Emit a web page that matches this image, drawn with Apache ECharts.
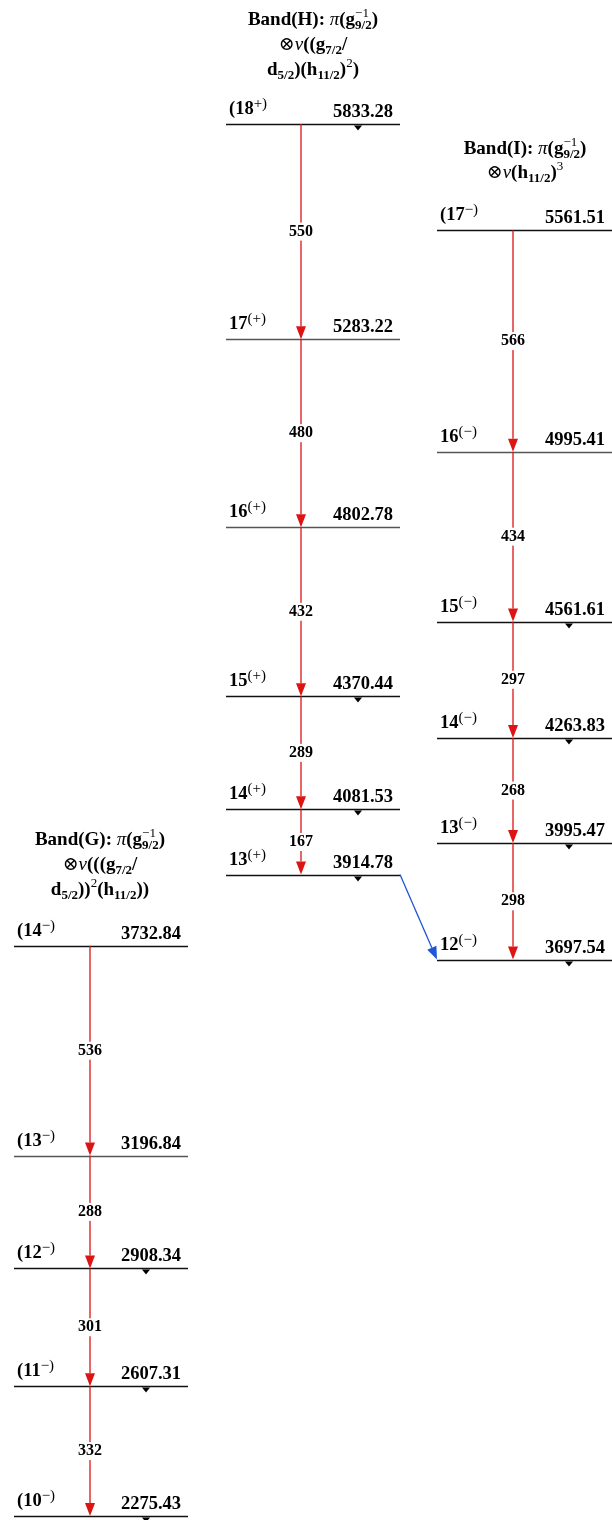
<!DOCTYPE html>
<html>
<head>
<meta charset="utf-8">
<script src="https://cdn.jsdelivr.net/npm/echarts@6/dist/echarts.min.js"></script>
<style>
  html, body { margin: 0; padding: 0; background: #fff; }
  #chart { width: 612px; height: 1520px; }
</style>
</head>
<body>
<div id="chart"></div>
<script>
// level energies (keV) and spins, top to bottom, per band
const bandGLevels = [3732.84, 3196.84, 2908.34, 2607.31, 2275.43];
const bandGSpins = ['(14−)', '(13−)', '(12−)', '(11−)', '(10−)'];
const bandGGammas = [536, 288, 301, 332];

const bandHLevels = [5833.28, 5283.22, 4802.78, 4370.44, 4081.53, 3914.78];
const bandHSpins = ['(18+)', '17(+)', '16(+)', '15(+)', '14(+)', '13(+)'];
const bandHGammas = [550, 480, 432, 289, 167];

const bandILevels = [5561.51, 4995.41, 4561.61, 4263.83, 3995.47, 3697.54];
const bandISpins = ['(17−)', '16(−)', '15(−)', '14(−)', '13(−)', '12(−)'];
const bandIGammas = [566, 434, 297, 268, 298];

// inter-band link (H -> I)
const linkFrom = 3914.78;
const linkTo = 3697.54;

// levels with a feeding marker under the line
const fedLevels = [5833.28, 4370.44, 4081.53, 3914.78, 4561.61, 4263.83, 3995.47, 3697.54, 2908.34, 2607.31, 2275.43];
const grayLevels = [5283.22, 4802.78, 4995.41, 3196.84];

const SERIF = '"Liberation Serif", "DejaVu Serif", serif';
const RED = '#dc1414';
const BLUE = '#1f55d6';

// horizontal layout of the three bands (x axis runs 0..612)
const bands = [
  {levels: bandGLevels, spins: bandGSpins, gammas: bandGGammas, x0: 14, x1: 188, xg: 90, xf: 146},
  {levels: bandHLevels, spins: bandHSpins, gammas: bandHGammas, x0: 226, x1: 400, xg: 301, xf: 358},
  {levels: bandILevels, spins: bandISpins, gammas: bandIGammas, x0: 437, x1: 612, xg: 513, xf: 569},
];

const levelRows = [];
const transRows = [];
bands.forEach(b => {
  b.levels.forEach((e, i) => {
    levelRows.push({x0: b.x0, x1: b.x1, xf: b.xf, e, spin: b.spins[i]});
  });
  b.gammas.forEach((g, i) => {
    transRows.push({xa: b.xg, ea: b.levels[i], xb: b.xg, eb: b.levels[i + 1], label: String(g), color: RED});
  });
});
transRows.push({xa: bands[1].x1, ea: linkFrom, xb: bands[2].x0, eb: linkTo, label: '', color: BLUE});

const levelRich = {
  b: {fontFamily: SERIF, fontWeight: 'bold', fontSize: 18.5, color: '#000'},
  sp: {fontFamily: SERIF, fontSize: 15, color: '#000', padding: [0, 0, 12, 0]},
  sg: {fontFamily: SERIF, fontSize: 15, color: '#555', padding: [0, 0, 10, 0]},
};

// '(18+)' -> bold number with superscript parity; '17(+)' -> gray bracketed parity
function spinText(s) {
  const m = s.match(/^(\(?)(\d+)(\(?[+−]\)?)(\)?)$/);
  if (!m) return '{b|' + s + '}';
  const sup = m[3].length > 1 ? '{sg|' + m[3] + '}' : '{sp|' + m[3] + '}';
  return '{b|' + m[1] + m[2] + '}' + sup + (m[4] ? '{b|' + m[4] + '}' : '');
}

function renderLevel(params, api) {
  const row = levelRows[params.dataIndex];
  const p0 = api.coord([row.x0, row.e]);
  const p1 = api.coord([row.x1, row.e]);
  const pf = api.coord([row.xf, row.e]);
  const y = Math.round(p0[1]) + 0.5;
  const children = [
    {type: 'line', shape: {x1: p0[0], y1: y, x2: p1[0], y2: y},
      style: {stroke: grayLevels.includes(row.e) ? '#555' : '#111', lineWidth: 1.5}},
    {type: 'text', x: p0[0] + 3, y: y - 3,
      style: {text: spinText(row.spin), rich: levelRich, align: 'left', verticalAlign: 'bottom'}},
    {type: 'text', x: p1[0] - 7, y: y - 3,
      style: {text: row.e.toFixed(2), fontFamily: SERIF, fontWeight: 'bold', fontSize: 18.5,
        fill: '#000', align: 'right', verticalAlign: 'bottom'}},
  ];
  if (fedLevels.includes(row.e)) {
    children.push({type: 'polygon',
      shape: {points: [[pf[0] - 4, y + 1], [pf[0] + 4, y + 1], [pf[0], y + 6]]},
      style: {fill: '#000'}});
  }
  return {type: 'group', children};
}

function renderTrans(params, api) {
  const row = transRows[params.dataIndex];
  const a = api.coord([row.xa, row.ea]);
  const b = api.coord([row.xb, row.eb]);
  const dx = b[0] - a[0], dy = b[1] - a[1];
  const len = Math.sqrt(dx * dx + dy * dy);
  const ux = dx / len, uy = dy / len;
  const hl = 13, hw = 5;
  const bx = b[0] - ux * hl, by = b[1] - uy * hl;
  const children = [
    {type: 'line', shape: {x1: a[0], y1: a[1], x2: bx, y2: by},
      style: {stroke: row.color, lineWidth: 1.3}},
    {type: 'polygon',
      shape: {points: [[b[0], b[1]], [bx - uy * hw, by + ux * hw], [bx + uy * hw, by - ux * hw]]},
      style: {fill: row.color}},
  ];
  if (row.label) {
    children.push({type: 'text', x: (a[0] + b[0]) / 2, y: (a[1] + b[1]) / 2,
      style: {text: row.label, fontFamily: SERIF, fontWeight: 'bold', fontSize: 16, fill: '#000',
        align: 'center', verticalAlign: 'middle', backgroundColor: '#fff', padding: [1, 0]}});
  }
  return {type: 'group', children};
}

// every token left-placed so a zero-width superscript stacks over the next subscript
const titleRich = {
  b: {fontFamily: SERIF, fontWeight: 'bold', fontSize: 19, color: '#000', align: 'left'},
  i: {fontFamily: SERIF, fontStyle: 'italic', fontSize: 19, color: '#000', align: 'left'},
  o: {fontFamily: SERIF, fontSize: 19, color: '#444', align: 'left'},
  sub: {fontFamily: SERIF, fontWeight: 'bold', fontSize: 13, color: '#000', padding: [11, 0, 0, 0], align: 'left'},
  sup: {fontFamily: SERIF, fontSize: 13, color: '#000', padding: [0, 0, 13, 0], align: 'left'},
  supz: {fontFamily: SERIF, fontSize: 13, color: '#000', padding: [0, 0, 13, 0], width: 0, align: 'left'},
};

function title(x, y, text) {
  return {type: 'text', x, y, silent: true,
    style: {text, rich: titleRich, align: 'center', verticalAlign: 'middle'}};
}

const titles = [
  title(313, 20, '{b|Band(H): }{i|π}{b|(g}{supz|−1}{sub|9/2}{b|)}'),
  title(313, 45, '{o|⊗}{i|ν}{b|((g}{sub|7/2}{b|/}'),
  title(313, 70, '{b|d}{sub|5/2}{b|)(h}{sub|11/2}{b|)}{sup|2}{b|)}'),
  title(525, 149, '{b|Band(I): }{i|π}{b|(g}{supz|−1}{sub|9/2}{b|)}'),
  title(525, 173, '{o|⊗}{i|ν}{b|(h}{sub|11/2}{b|)}{sup|3}'),
  title(100, 840, '{b|Band(G): }{i|π}{b|(g}{supz|−1}{sub|9/2}{b|)}'),
  title(100, 865, '{o|⊗}{i|ν}{b|(((g}{sub|7/2}{b|/}'),
  title(100, 890, '{b|d}{sub|5/2}{b|))}{sup|2}{b|(h}{sub|11/2}{b|))}'),
];

const chart = echarts.init(document.getElementById('chart'));
chart.setOption({
  animation: false,
  grid: {left: 0, right: 0, top: 124, bottom: 4},
  xAxis: {type: 'value', min: 0, max: 612, show: false},
  yAxis: {type: 'value', min: 2275.43, max: 5833.28, show: false},
  graphic: titles,
  series: [
    {type: 'custom', renderItem: renderTrans, clip: false, z: 3,
      data: transRows.map(r => [r.xa, r.ea, r.xb, r.eb])},
    {type: 'custom', renderItem: renderLevel, clip: false, z: 2,
      data: levelRows.map(r => [r.x0, r.e, r.x1, r.e])},
  ],
});
</script>
</body>
</html>
